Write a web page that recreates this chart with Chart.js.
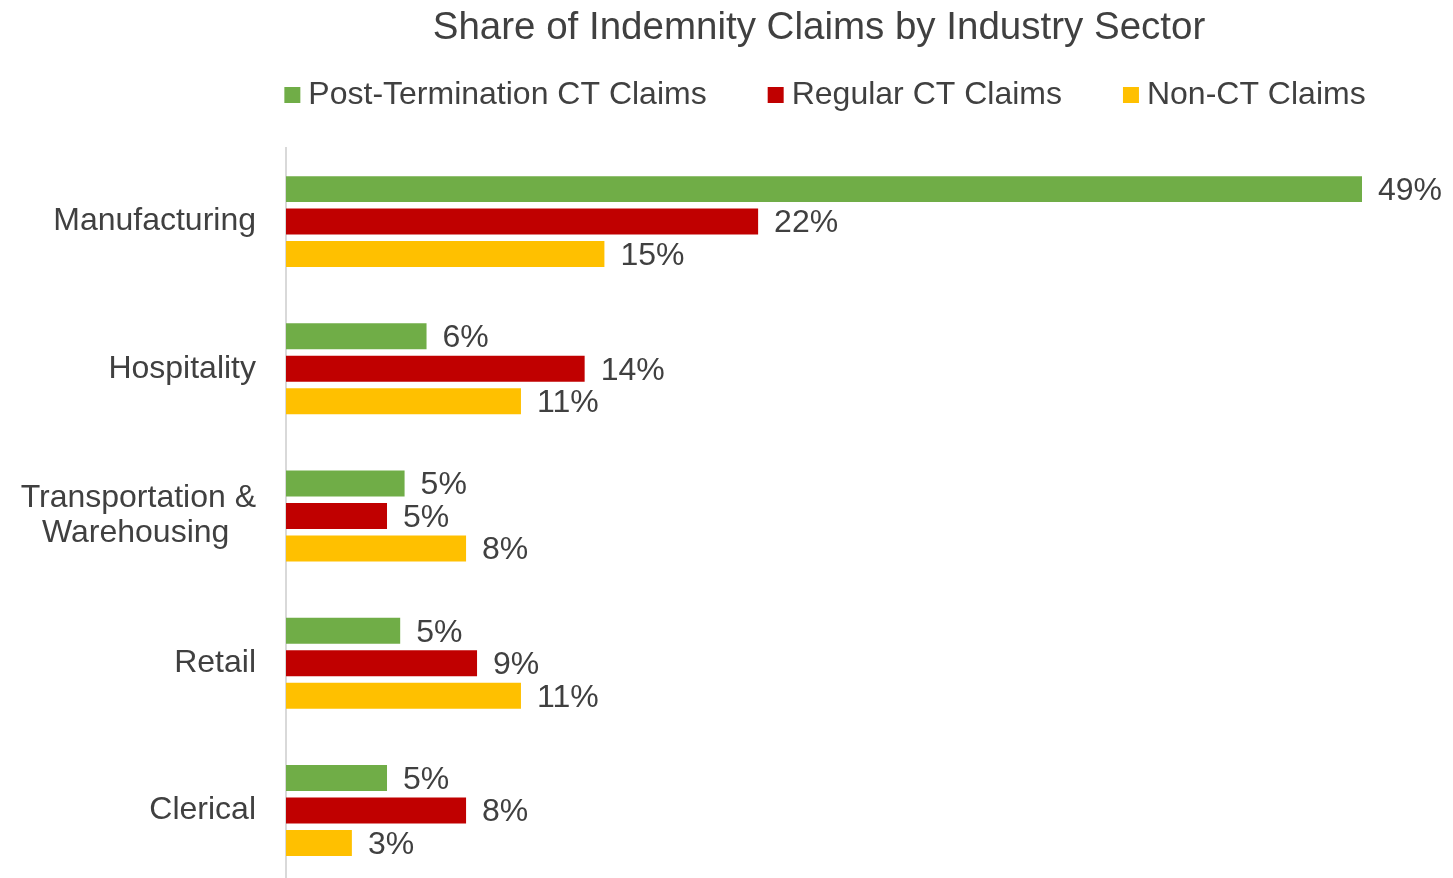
<!DOCTYPE html>
<html>
<head>
<meta charset="utf-8">
<title>Share of Indemnity Claims by Industry Sector</title>
<script src="https://cdn.jsdelivr.net/npm/chart.js@4.4.1/dist/chart.umd.min.js"></script>
<style>
  html, body { margin: 0; padding: 0; background: #fff; overflow: hidden; }
  #wrap { width: 1453px; height: 884px; }
</style>
</head>
<body>
<div id="wrap"><canvas id="claimsChart" width="1453" height="884"></canvas></div>
<script>
// Data (percent of claims)
const sectors = ['Manufacturing', 'Hospitality', ['Transportation &', 'Warehousing   '], 'Retail', 'Clerical'];
const postTermination = [49.0, 6.4, 5.4, 5.2, 4.6];
const regularCT = [21.5, 13.6, 4.6, 8.7, 8.2];
const nonCT = [14.5, 10.7, 8.2, 10.7, 3.0];
const seriesNames = ['Post-Termination CT Claims', 'Regular CT Claims', 'Non-CT Claims'];
const seriesColors = ['#70ad47', '#c00000', '#ffc000'];

const textColor = '#404040';
Chart.defaults.font.family = '"Liberation Sans", Arial, sans-serif';
Chart.defaults.color = textColor;

// keep the legend on one row and leave a gap under it
const legendGap = {
  id: 'legendGap',
  beforeInit(chart) {
    const origFit = chart.legend.fit;
    chart.legend.fit = function fit() {
      this.maxWidth += 300;
      origFit.bind(chart.legend)();
      this.height += 27;
    };
  },
  afterLayout(chart) {
    // extra room so the last item isn't wrapped while drawing (nudged a few px right)
    chart.legend.left -= 145;
    chart.legend.right += 155;
    chart.legend.width += 300;
    // title sits a little left of the plot centre
    chart.titleBlock.left -= 10;
    chart.titleBlock.width += 10;
  }
};

// percent labels at the end of each bar
const barLabels = {
  id: 'barLabels',
  afterDatasetsDraw(chart) {
    const ctx = chart.ctx;
    ctx.save();
    ctx.font = '32px "Liberation Sans", Arial, sans-serif';
    ctx.fillStyle = textColor;
    ctx.textAlign = 'left';
    ctx.textBaseline = 'middle';
    chart.data.datasets.forEach((ds, i) => {
      chart.getDatasetMeta(i).data.forEach((bar, j) => {
        ctx.fillText(Math.round(ds.data[j]) + '%', bar.x + 16, bar.y + 2);
      });
    });
    ctx.restore();
  }
};

const ctx = document.getElementById('claimsChart').getContext('2d');
const claimsChart = new Chart(ctx, {
  type: 'bar',
  data: {
    labels: sectors,
    datasets: [
      { label: seriesNames[0], data: postTermination, backgroundColor: seriesColors[0] },
      { label: seriesNames[1], data: regularCT, backgroundColor: seriesColors[1] },
      { label: seriesNames[2], data: nonCT, backgroundColor: seriesColors[2] }
    ]
  },
  options: {
    indexAxis: 'y',
    responsive: false,
    animation: false,
    datasets: {
      bar: { categoryPercentage: 0.662, barPercentage: 0.8, borderWidth: 0 }
    },
    layout: { padding: { left: 0, right: 91, top: 0, bottom: 0 } },
    scales: {
      x: { display: false, min: 0, max: 49 },
      y: {
        afterFit(scale) {
          scale.width = 286;
          scale.paddingTop = 0;
          scale.paddingBottom = 0;
        },
        grid: { display: false, drawTicks: false },
        border: { display: true, color: '#d9d9d9', width: 2 },
        ticks: {
          padding: 30,
          color: textColor,
          font: { size: 32, lineHeight: 1.1 }
        }
      }
    },
    plugins: {
      title: {
        display: true,
        text: 'Share of Indemnity Claims by Industry Sector',
        fullSize: false,
        color: textColor,
        font: { size: 38.5, weight: 'normal', lineHeight: 1.2 },
        padding: { top: 5, bottom: -41.2 }
      },
      legend: {
        position: 'top',
        fullSize: false,
        labels: {
          usePointStyle: true,
          pointStyle: 'rect',
          boxWidth: 0.01,
          boxHeight: 16,
          padding: 69,
          color: textColor,
          font: { size: 32 }
        }
      },
      tooltip: { enabled: false }
    }
  },
  plugins: [legendGap, barLabels]
});
</script>
</body>
</html>
